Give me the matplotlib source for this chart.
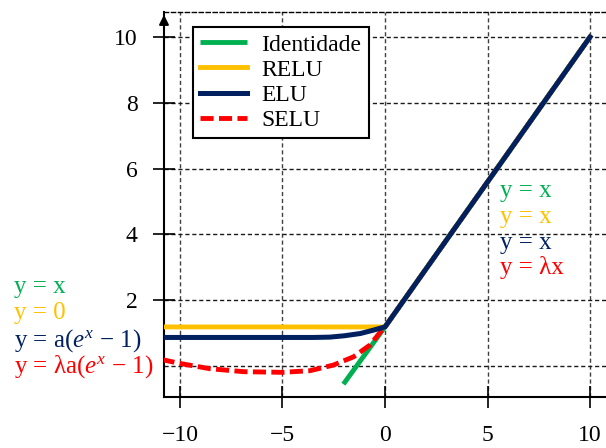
import numpy as np
import matplotlib
matplotlib.use("Agg")
import matplotlib.pyplot as plt

plt.rcParams['font.family'] = ['Liberation Serif', 'DejaVu Serif']
plt.rcParams['mathtext.fontset'] = 'custom'
plt.rcParams['mathtext.rm'] = 'Liberation Serif'
plt.rcParams['mathtext.it'] = 'Liberation Serif:italic'

# curves
ident_x = [-2.03, 0.0, 10.0]
ident_y = [-0.55, 1.19, 10.0]

relu_x = [-10.9, 0.0, 10.0]
relu_y = [1.19, 1.19, 10.0]

elu_x = [-10.9, -3.5, -2.7, -2.0, -1.2, -0.58, 0.0, 10.0]
elu_y = [0.87, 0.87, 0.88, 0.92, 0.99, 1.09, 1.19, 10.0]

selu_x = [-10.9, -10.0, -8.54, -6.9, -5.0, -3.66, -2.52, -1.54, -0.73, -0.08, 0.0, 10.0]
selu_y = [0.2, 0.08, -0.08, -0.17, -0.19, -0.14, 0.03, 0.28, 0.64, 1.15, 1.19, 10.0]

names = ['Identidade', 'RELU', 'ELU', 'SELU']
colors = ['#00B050', '#FFC000', '#002060', '#FF0000']
left_labels = ['y = x', 'y = 0', r'y = a($e^x$ − 1)', r'y = λa($e^x$ − 1)']
right_labels = ['y = x', 'y = x', 'y = x', 'y = λx']

xticks = [-10, -5, 0, 5, 10]
yticks = [2, 4, 6, 8, 10]

fig = plt.figure(figsize=(6.06, 4.48), dpi=100)
ax = fig.add_axes([0.2706, 0.1138, 0.7294, 0.8594])

# navy ends up on top of the shared diagonal, like the reference
ax.plot(ident_x, ident_y, color=colors[0], lw=3.5, label=names[0], solid_capstyle='butt', zorder=2)
ax.plot(relu_x, relu_y, color=colors[1], lw=3.5, label=names[1], zorder=4)
ax.plot(elu_x, elu_y, color=colors[2], lw=3.6, label=names[2], zorder=5)
ax.plot(selu_x, selu_y, color=colors[3], lw=3.5, ls=(0, (2.7, 1.1)), label=names[3], zorder=3)

ax.set_xlim(-10.78, 10.78)
ax.set_ylim(-0.94, 10.76)
ax.set_xticks(xticks)
ax.set_yticks(yticks)
ax.set_xticklabels([str(t).replace('-', '−') for t in xticks])
ax.tick_params(direction='inout', length=16, width=1.2, labelsize=17, pad=11)
ax.tick_params(axis='x', pad=12)

# dashed grid, including y = 0
for xv in xticks:
    ax.axvline(xv, color='0.25', ls=(0, (3, 2)), lw=1, zorder=0)
for yv in [0] + yticks:
    ax.axhline(yv, color='0.1', ls=(0, (3, 2)), lw=1, zorder=0)

ax.spines['right'].set_visible(False)
ax.spines['top'].set_linestyle((0, (3, 2)))
ax.spines['top'].set_linewidth(1)
ax.spines['left'].set_linewidth(1.5)
ax.spines['bottom'].set_linewidth(1.5)
ax.annotate('', xy=(0, 1.0), xytext=(0, 0.96), xycoords='axes fraction',
            arrowprops=dict(arrowstyle='-|>', color='k', lw=1.5, mutation_scale=14),
            annotation_clip=False)

handles, labels = ax.get_legend_handles_labels()
leg = ax.legend(handles, labels, loc='upper left', bbox_to_anchor=(0.0656, 0.961), borderaxespad=0,
                fontsize=17, fancybox=False, edgecolor='k', framealpha=1,
                handlelength=2.0, labelspacing=0.15, borderpad=0.3, handletextpad=0.6)
leg.get_frame().set_linewidth(1.5)

for lab, c, yv in zip(left_labels, colors, [2.4, 1.62, 0.79, -0.03]):
    ax.text(-18.1, yv, lab, color=c, fontsize=18, ha='left', va='center', clip_on=False)
for lab, c, yv in zip(right_labels, colors, [5.32, 4.53, 3.74, 3.01]):
    ax.text(5.6, yv, lab, color=c, fontsize=18, ha='left', va='center')

fig.savefig('out.png', dpi=100)
